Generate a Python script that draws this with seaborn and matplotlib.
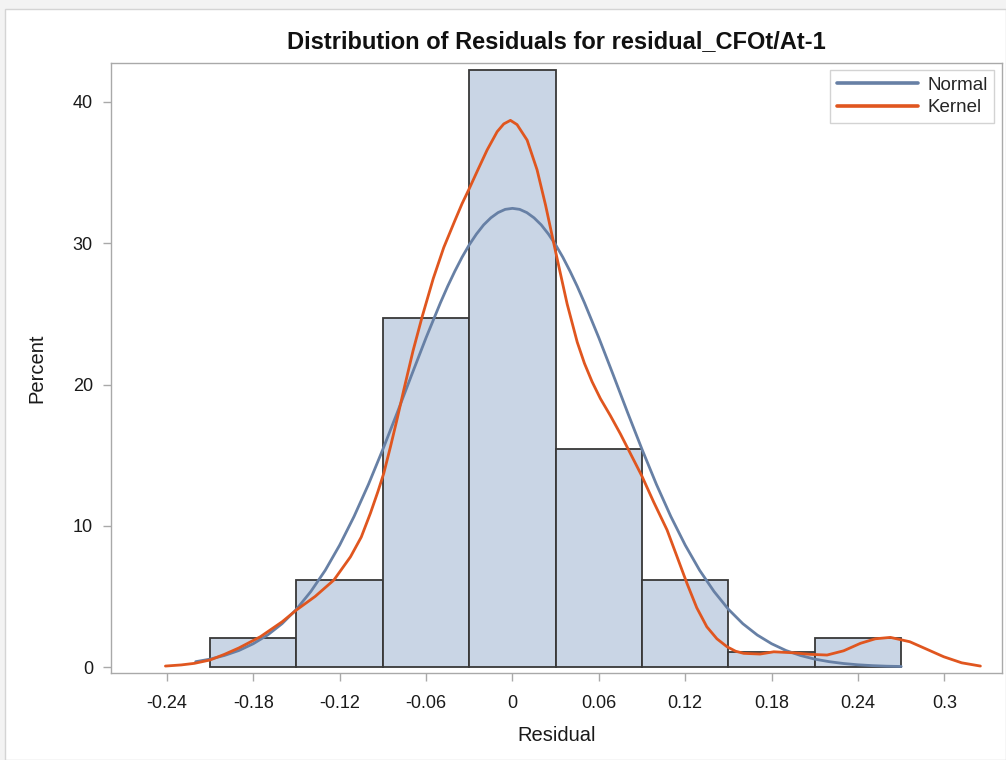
import matplotlib
matplotlib.use("Agg")
import matplotlib.pyplot as plt
import seaborn as sns
import numpy as np
from matplotlib.patches import Rectangle

# ---- data ----
bin_centers = [-0.18, -0.12, -0.06, 0.0, 0.06, 0.12, 0.18, 0.24]
bin_percent = [2.06, 6.19, 24.74, 42.27, 15.46, 6.19, 1.03, 2.06]
bin_edges = [-0.21, -0.15, -0.09, -0.03, 0.03, 0.09, 0.15, 0.21, 0.27]

normal_x = [-0.22, -0.21, -0.20, -0.19, -0.18, -0.17, -0.16, -0.15, -0.14, -0.13,
            -0.12, -0.11, -0.10, -0.09, -0.08, -0.07, -0.06, -0.05, -0.045, -0.04,
            -0.035, -0.03, -0.025, -0.02, -0.015, -0.01, -0.005, 0.00, 0.005, 0.01,
            0.015, 0.02, 0.025, 0.03, 0.035, 0.04, 0.045, 0.05, 0.06, 0.07,
            0.08, 0.09, 0.10, 0.11, 0.12, 0.13, 0.14, 0.15, 0.16, 0.17,
            0.18, 0.19, 0.20, 0.21, 0.22, 0.23, 0.24, 0.25, 0.26, 0.27]
normal_y = [0.38, 0.56, 0.82, 1.17, 1.65, 2.27, 3.07, 4.09, 5.35, 6.85,
            8.63, 10.66, 12.93, 15.41, 18.01, 20.68, 23.31, 25.79, 26.95, 28.02,
            29.01, 29.89, 30.65, 31.30, 31.80, 32.17, 32.40, 32.47, 32.40, 32.17,
            31.80, 31.30, 30.65, 29.89, 29.01, 28.02, 26.95, 25.79, 23.31, 20.68,
            18.01, 15.41, 12.93, 10.66, 8.63, 6.85, 5.35, 4.09, 3.07, 2.27,
            1.65, 1.17, 0.82, 0.56, 0.38, 0.25, 0.16, 0.10, 0.06, 0.04]

kernel_x = [-0.241, -0.23, -0.221, -0.21, -0.20, -0.19, -0.175, -0.16, -0.150, -0.137,
            -0.124, -0.1125, -0.105, -0.0986, -0.0935, -0.0894, -0.0847, -0.08, -0.0755, -0.069,
            -0.0627, -0.055, -0.0477, -0.040, -0.035, -0.0303, -0.024, -0.0176, -0.0106, -0.006,
            -0.0014, 0.0032, 0.0102, 0.0171, 0.023, 0.0287, 0.033, 0.038, 0.045, 0.050,
            0.0553, 0.0611, 0.068, 0.075, 0.082, 0.090, 0.098, 0.1074, 0.114, 0.1213,
            0.128, 0.135, 0.142, 0.149, 0.155, 0.1606, 0.172, 0.1815, 0.195, 0.207,
            0.2185, 0.23, 0.2417, 0.252, 0.2625, 0.276, 0.288, 0.2995, 0.312, 0.325]
kernel_y = [0.07, 0.15, 0.26, 0.5, 0.9, 1.35, 2.15, 3.2, 4.04, 5.0,
            6.16, 7.8, 9.2, 10.9, 12.4, 13.7, 15.6, 17.6, 19.6, 22.4,
            24.8, 27.5, 29.7, 31.6, 32.8, 33.8, 35.2, 36.6, 37.9, 38.45,
            38.7, 38.4, 37.3, 35.2, 32.7, 30.0, 28.0, 25.7, 23.0, 21.5,
            20.2, 19.0, 17.8, 16.5, 15.1, 13.5, 11.7, 9.7, 7.9, 5.9,
            4.2, 2.85, 2.0, 1.44, 1.12, 0.97, 0.92, 1.08, 1.01, 0.9,
            0.85, 1.15, 1.68, 2.0, 2.10, 1.79, 1.25, 0.73, 0.3, 0.07]

x_ticks = [-0.24, -0.18, -0.12, -0.06, 0.0, 0.06, 0.12, 0.18, 0.24, 0.3]
x_ticklabels = ["-0.24", "-0.18", "-0.12", "-0.06", "0", "0.06", "0.12", "0.18", "0.24", "0.3"]
y_ticks = [0, 10, 20, 30, 40]

title = "Distribution of Residuals for residual_CFOt/At-1"

# ---- style ----
sns.set_style("white")
plt.rcParams['font.family'] = ['Liberation Sans', 'DejaVu Sans']

fig = plt.figure(figsize=(10.06, 7.6), dpi=100, facecolor="#f3f3f3")
bg = Rectangle((5 / 1006, 0), 1 - 5 / 1006, 1 - 9 / 760,
               transform=fig.transFigure, facecolor="white",
               edgecolor="#d4d4d4", linewidth=1, zorder=-10)
fig.patches.append(bg)
ax = fig.add_axes([111 / 1006, 1 - 672.7 / 760, 891 / 1006, 609.7 / 760])
ax.set_zorder(1)
ax.set_facecolor("white")

sns.histplot(x=bin_centers, weights=bin_percent, bins=bin_edges, ax=ax,
             color="#c9d5e5", edgecolor="#383838", linewidth=1.3, alpha=1.0,
             zorder=2)

sns.lineplot(x=normal_x, y=normal_y, ax=ax, color="#6780a5", linewidth=2.0,
             label="Normal", sort=False, estimator=None, zorder=3)
sns.lineplot(x=kernel_x, y=kernel_y, ax=ax, color="#e0561f", linewidth=2.0,
             label="Kernel", sort=False, estimator=None, zorder=4)
for ln in ax.get_lines():
    ln.set_solid_joinstyle("round")
    ln.set_solid_capstyle("round")

ax.set_xlim(-0.2788, 0.340)
ax.set_ylim(-0.4, 42.76)
ax.set_xticks(x_ticks)
ax.set_xticklabels(x_ticklabels)
ax.set_yticks(y_ticks)

for s in ax.spines.values():
    s.set_visible(True)
    s.set_color("#a9a9a9")
    s.set_linewidth(1.0)

ax.tick_params(axis="both", which="major", direction="out", length=6, width=1,
               color="#a9a9a9", labelsize=13, labelcolor="#1a1a1a",
               bottom=True, left=True, top=False, right=False)
ax.tick_params(axis="y", pad=7)
ax.tick_params(axis="x", pad=10)

ax.set_xlabel("Residual", fontsize=14.5, color="#1a1a1a", labelpad=10)
ax.set_ylabel("Percent", fontsize=14.5, color="#1a1a1a", labelpad=19)
ax.set_title(title, fontsize=17, fontweight="bold", color="#111111", pad=11)

leg = ax.legend(loc="upper right", bbox_to_anchor=(0.991, 0.9885), fontsize=13.5,
                frameon=True, fancybox=False, shadow=False, borderpad=0.35,
                labelspacing=0.3, handlelength=4.3, handletextpad=0.5,
                borderaxespad=0)
leg.get_frame().set_edgecolor("#c8c8c8")
leg.get_frame().set_linewidth(1.0)
for line in leg.get_lines():
    line.set_linewidth(2.6)

fig.savefig("out.png", dpi=100, facecolor=fig.get_facecolor())
